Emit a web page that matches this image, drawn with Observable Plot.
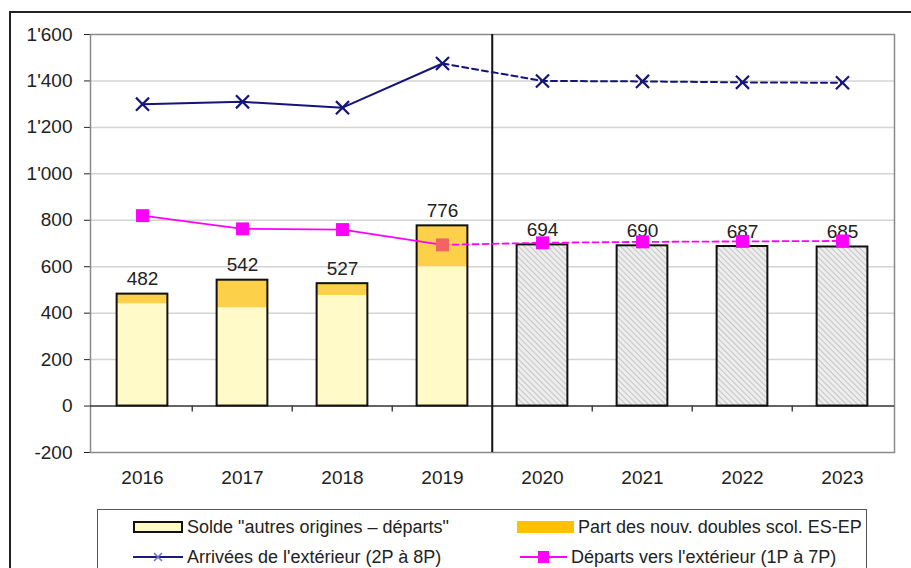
<!DOCTYPE html>
<html><head><meta charset="utf-8">
<script src="https://cdn.jsdelivr.net/npm/d3@7"></script>
<script src="https://cdn.jsdelivr.net/npm/@observablehq/plot@0.6"></script>
<style>
body{margin:0;background:#fff;font-family:"Liberation Sans",Arial,sans-serif;}
#wrap{position:relative;width:911px;height:568px;overflow:hidden;background:#fff;}
#frame{position:absolute;left:9px;top:11px;width:1000px;height:700px;border:2px solid #222;}
#chart{position:absolute;left:0;top:0;}
#legend{position:absolute;left:97px;top:509px;width:768px;height:90px;border:1.5px solid #555;}
.item{position:absolute;height:20px;display:flex;align-items:center;font-size:18px;color:#222;white-space:nowrap;}
.item svg{flex:none;margin-right:4px;}
</style></head><body>
<div id="wrap">
  <div id="frame"></div>
  <div id="chart"></div>
  <div id="legend"></div>
  <div class="item" style="left:133px;top:517px;"><svg width="50" height="20"><rect x="1" y="5" width="48" height="10" fill="#fff9c4" stroke="#111" stroke-width="2"/></svg><span>Solde "autres origines – départs"</span></div>
  <div class="item" style="left:517px;top:517px;"><svg width="57" height="20"><rect x="0" y="4" width="57" height="12" fill="#ffc000"/></svg><span>Part des nouv. doubles scol. ES-EP</span></div>
  <div class="item" style="left:133px;top:547px;"><svg width="50" height="20"><line x1="0" y1="10" x2="50" y2="10" stroke="#1a1a80" stroke-width="2"/><path d="M21,6L29,14M29,6L21,14" stroke="#6a6ad8" stroke-width="1.5"/></svg><span>Arrivées de l'extérieur (2P à 8P)</span></div>
  <div class="item" style="left:520px;top:547px;"><svg width="47" height="20"><line x1="0" y1="10" x2="47" y2="10" stroke="#ff00ff" stroke-width="2"/><rect x="18" y="4" width="11" height="12" fill="#ff00ff"/></svg><span>Départs vers l'extérieur (1P à 7P)</span></div>
</div>
<script>
const years = ["2016","2017","2018","2019","2020","2021","2022","2023"];
const totals = [482,542,527,776,694,690,687,685];
const soldeAutres = [440,423,476,600];
const arrivees = [1300,1310,1285,1475,1400,1398,1394,1392];
const departs = [820,763,760,694,703,707,709,711];
const yTicks = [-200,0,200,400,600,800,1000,1200,1400,1600];
const nObserved = 4;

const W=911,H=568,ML=90,MR=17,MT=34,MB=116;
const step=(W-ML-MR)/years.length;
const inset=step*0.245;
const rows = years.map((year,i)=>({year,total:totals[i],base:soldeAutres[i],arr:arrivees[i],dep:departs[i],obs:i<nObserved}));
const observed = rows.filter(d=>d.obs), projected = rows.filter(d=>!d.obs);
const fmt = d3.formatLocale({decimal:".",thousands:"'",grouping:[3],currency:["",""],minus:"-"}).format(",d");
const navy="#14147a", magenta="#ff00ff";

const plot = Plot.plot({
  width:W,height:H,marginLeft:ML,marginRight:MR,marginTop:MT,marginBottom:MB,
  style:{fontFamily:"Liberation Sans, Arial, sans-serif",fontSize:"19px",color:"#222",background:"transparent",overflow:"visible"},
  x:{domain:years,padding:0,tickSize:0,tickPadding:18,label:null},
  y:{domain:[-200,1600],ticks:yTicks,tickFormat:fmt,tickSize:6,tickPadding:12,label:null,line:true},
  marks:[
    Plot.ruleY(yTicks.filter(v=>v>0&&v<1600),{stroke:"#d4d4d4",strokeWidth:1.5}),
    Plot.frame({stroke:"#8a8a8a",strokeWidth:1.5}),
    Plot.barY(observed,{x:"year",y:"base",fill:"#fffac8",insetLeft:inset,insetRight:inset}),
    Plot.barY(observed,{x:"year",y1:"base",y2:"total",fill:"#fdd04a",insetLeft:inset,insetRight:inset}),
    Plot.barY(projected,{x:"year",y:"total",fill:"url(#hatch)",insetLeft:inset,insetRight:inset}),
    Plot.ruleY([0],{stroke:"#333",strokeWidth:1.5}),
    Plot.barY(rows,{x:"year",y:"total",fill:"none",stroke:"#111",strokeWidth:2,insetLeft:inset,insetRight:inset}),
    Plot.ruleX(years.slice(1).filter(y=>y!==years[nObserved]),{y1:0,y2:0,insetBottom:-6,dx:-step/2,stroke:"#444",strokeWidth:1.5}),
    Plot.ruleX([years[nObserved]],{dx:-step/2,stroke:"#111",strokeWidth:2}),
    Plot.text(rows,{x:"year",y:"total",text:d=>String(d.total),dy:-9,lineAnchor:"bottom",fill:"#222",fontSize:19}),
    Plot.line(rows.slice(0,nObserved),{x:"year",y:"arr",stroke:navy,strokeWidth:2}),
    Plot.line(rows.slice(nObserved-1),{x:"year",y:"arr",stroke:navy,strokeWidth:2,strokeDasharray:"6,4"}),
    Plot.dot(rows,{x:"year",y:"arr",symbol:"times",r:6,stroke:navy,strokeWidth:2.2}),
    Plot.line(rows.slice(0,nObserved),{x:"year",y:"dep",stroke:magenta,strokeWidth:1.8}),
    Plot.line(rows.slice(nObserved-1),{x:"year",y:"dep",stroke:magenta,strokeWidth:1.8,strokeDasharray:"6,4"}),
    Plot.dot(rows,{x:"year",y:"dep",symbol:"square",r:7.3,fill:magenta,stroke:"none",filter:d=>d.year!==years[nObserved-1]}),
    Plot.dot(rows,{x:"year",y:"dep",symbol:"square",r:7.3,fill:"#f26464",stroke:"none",filter:d=>d.year===years[nObserved-1]})
  ]
});
d3.select(plot).insert("defs",":first-child").html(
  '<pattern id="hatch" width="4" height="4" patternUnits="userSpaceOnUse" patternTransform="rotate(-45)">'+
  '<rect width="4" height="4" fill="#ededed"/><line x1="0" y1="0" x2="0" y2="4" stroke="#b4b4b4" stroke-width="1.4"/></pattern>');
document.getElementById("chart").appendChild(plot);
</script>
</body></html>
